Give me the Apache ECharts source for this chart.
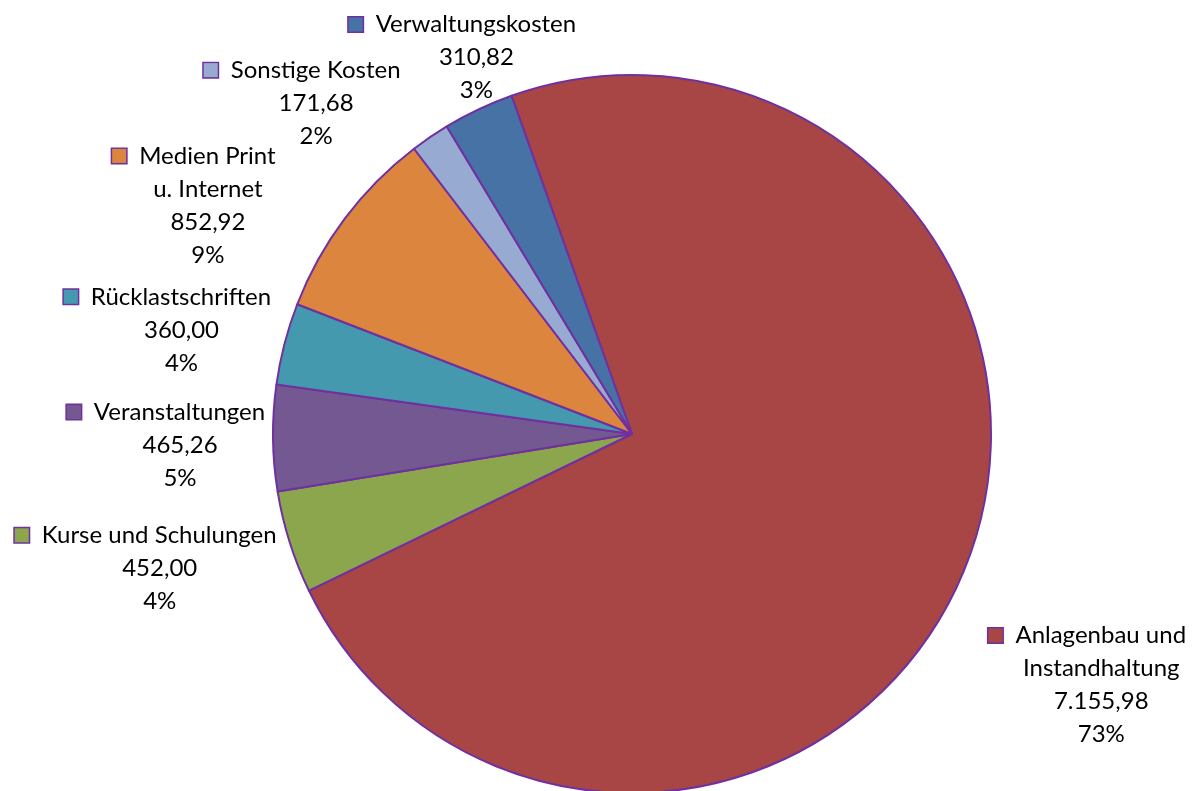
<!DOCTYPE html>
<html>
<head>
<meta charset="utf-8">
<script src="https://cdn.jsdelivr.net/npm/echarts@6/dist/echarts.min.js"></script>
<style>
  html, body { margin: 0; padding: 0; background: #fff; }
  #chart { width: 1196px; height: 791px; }
</style>
</head>
<body>
<div id="chart"></div>
<script>
// Kostenarten, Beträge und die Prozentangaben wie im Original
const categories = [
  'Anlagenbau und Instandhaltung',
  'Kurse und Schulungen',
  'Veranstaltungen',
  'Rücklastschriften',
  'Medien Print u. Internet',
  'Sonstige Kosten',
  'Verwaltungskosten'
]
const amounts = [7155.98, 452.00, 465.26, 360.00, 852.92, 171.68, 310.82]
const percentLabels = ['73%', '4%', '5%', '4%', '9%', '2%', '3%']

const sliceColors = ['#A84646', '#8BA64D', '#735891', '#4499AF', '#DC853F', '#97ABD2', '#4672A6']
// Verschiebung der Beschriftungen gegenüber dem Ankerpunkt am Kreisrand
const labelNudge = [[132, 115], [-125, 26], [-88, 7], [-98, -14], [-132, -13], [-109, -34], [3, -52]]

function deNumber(v) {
  const parts = v.toFixed(2).split('.')
  return parts[0].replace(/\B(?=(\d{3})+(?!\d))/g, '.') + ',' + parts[1]
}

function wrapName(name) {
  return name.replace(' und Instandhaltung', ' und\nInstandhaltung').replace('Print u.', 'Print\nu.')
}

const textStyle = { fontFamily: 'Lato', fontSize: 24, color: '#000', lineHeight: 33, align: 'center' }
const rich = {
  t: { ...textStyle },
  gp: { width: 13, height: 15, align: 'center' },
  pd: { width: 28, height: 15, align: 'center' }
}
sliceColors.forEach((c, i) => {
  rich['sq' + i] = {
    width: 14, height: 14, backgroundColor: c,
    borderColor: '#7030A0', borderWidth: 1.5, align: 'center'
  }
})

const chart = echarts.init(document.getElementById('chart'))
chart.setOption({
  animation: false,
  series: [
    {
      type: 'pie',
      center: [632, 434],
      radius: 359,
      startAngle: 109.6,
      clockwise: true,
      avoidLabelOverlap: false,
      itemStyle: { borderColor: '#7030A0', borderWidth: 2 },
      emphasis: { disabled: true },
      label: {
        show: true,
        position: 'outside',
        alignTo: 'none',
        rich: rich,
        formatter: (p) => {
          const i = p.dataIndex
          const lines = wrapName(p.name).split('\n')
          let s = '{sq' + i + '|}{gp|}{t|' + lines[0] + '}{pd|}'
          for (let k = 1; k < lines.length; k++) s += '\n{t|' + lines[k] + '}'
          s += '\n{t|' + deNumber(p.value) + '}'
          s += '\n{t|' + percentLabels[i] + '}'
          return s
        }
      },
      labelLine: { show: false, length: 0, length2: 0 },
      labelLayout: (p) => {
        const n = labelNudge[p.dataIndex]
        return { dx: n[0], dy: n[1], align: 'center', verticalAlign: 'middle' }
      },
      data: categories.map((name, i) => ({
        name: name,
        value: amounts[i],
        itemStyle: { color: sliceColors[i] }
      }))
    }
  ]
})
</script>
</body>
</html>
